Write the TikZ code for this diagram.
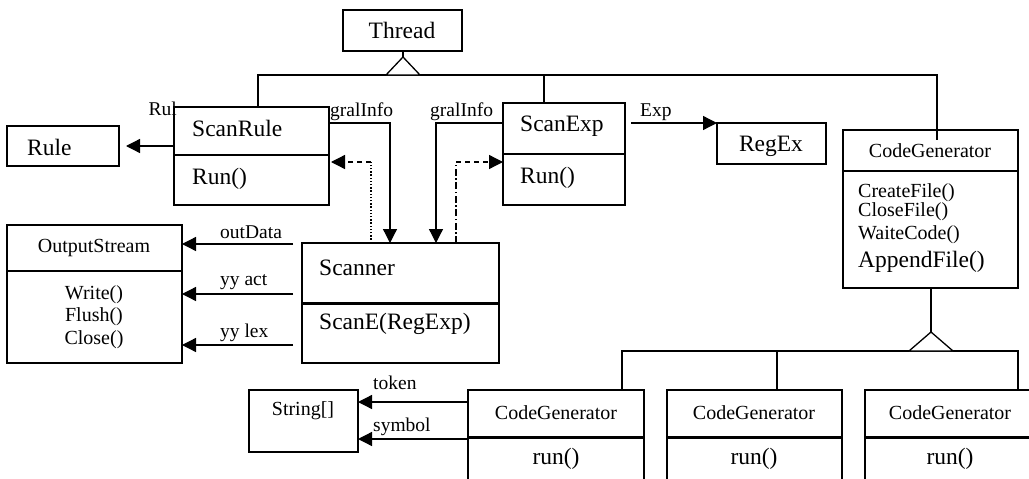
\documentclass[tikz,border=0pt]{standalone}
\usepackage{fontspec}
\setmainfont{Liberation Serif}
\usetikzlibrary{arrows.meta}
\newcommand\fBig{\fontsize{23.5}{27}\selectfont}
\newcommand\fSmall{\fontsize{20}{23}\selectfont}
\newcommand\fLab{\fontsize{19.5}{21}\selectfont}
\begin{document}
\begin{tikzpicture}[x=1pt,y=-1pt,
  ln/.style={line width=1.3pt},
  cbox/.style={draw, line width=1.3pt, anchor=north west, inner sep=0pt, outer sep=0pt},
  thickdiv/.style={line width=3pt},
  bigtxt/.style={inner sep=0pt, font=\fBig},
  smalltxt/.style={inner sep=0pt, font=\fSmall},
  labtxt/.style={inner sep=0pt, font=\fLab, anchor=west},
  tip/.style={-{Triangle[length=14pt,width=14pt]}},
  arr/.style={ln, tip},
  dashln/.style={ln, dash pattern=on 5pt off 4pt},
  dotln/.style={ln, dash pattern=on 1.4pt off 1.8pt},
  dashdotln/.style={ln, dash pattern=on 7pt off 2.5pt on 1.5pt off 2.5pt},
  gentri/.style={ln, line join=miter, fill=white}
]
\useasboundingbox (0,0) rectangle (1029,479);
\clip (0,0) rectangle (1029,479);
\fill[white] (0,0) rectangle (1029,479);

% ---------- class boxes ----------
\node[cbox, minimum width=119pt, minimum height=41pt] (thread) at (343,10) {};
\node[bigtxt] (threadt) at (402,30) {Thread};

\node[cbox, minimum width=155pt, minimum height=98pt] (scanrule) at (174,107) {};
\draw[ln] (scanrule.west |- 0,155) -- (scanrule.east |- 0,155);
\node[bigtxt, anchor=west] (scanrulet) at (192,128) {ScanRule};
\node[bigtxt, anchor=west] (scanrulem) at (192,179) {Run()};

\node[cbox, minimum width=112pt, minimum height=40pt] (rule) at (7,126) {};
\node[bigtxt, anchor=west] (rulet) at (27,147) {Rule};

\node[cbox, minimum width=122pt, minimum height=102pt] (scanexp) at (503,103) {};
\draw[ln] (scanexp.west |- 0,154) -- (scanexp.east |- 0,154);
\node[bigtxt, anchor=west] (scanexpt) at (520,126) {ScanExp};
\node[bigtxt, anchor=west] (scanexpm) at (520,178) {Run()};

\node[cbox, minimum width=109pt, minimum height=41pt] (regex) at (717,123) {};
\node[bigtxt] (regext) at (771,146) {RegEx};

\node[cbox, minimum width=175pt, minimum height=158pt] (cgbig) at (843,130) {};
\draw[ln] (cgbig.west |- 0,171) -- (cgbig.east |- 0,171);
\node[smalltxt] (cgbigt) at (930,151) {CodeGenerator};
\node[smalltxt, anchor=west] (cgm1) at (858,193) {CreateFile()};
\node[smalltxt, anchor=west] (cgm2) at (858,212) {CloseFile()};
\node[smalltxt, anchor=west] (cgm3) at (858,235) {WaiteCode()};
\node[bigtxt, anchor=west] (cgm4) at (858,262) {AppendFile()};

\node[cbox, minimum width=175pt, minimum height=138pt] (output) at (7,225) {};
\draw[ln] (output.west |- 0,271) -- (output.east |- 0,271);
\node[smalltxt] (outputt) at (94,248) {OutputStream};
\node[smalltxt] (outm1) at (94,295) {Write()};
\node[smalltxt] (outm2) at (94,317) {Flush()};
\node[smalltxt] (outm3) at (94,340) {Close()};

\node[cbox, minimum width=197pt, minimum height=120pt] (scanner) at (302,243) {};
\draw[thickdiv] (scanner.west |- 0,303) -- (scanner.east |- 0,303);
\node[bigtxt, anchor=west] (scannert) at (319,268) {Scanner};
\node[bigtxt, anchor=west] (scannerm) at (319,324) {ScanE(RegExp)};

\node[cbox, minimum width=109pt, minimum height=62pt] (string) at (249,390) {};
\node[smalltxt] (stringt) at (303,411) {String[]};

\node[cbox, minimum width=176pt, minimum height=120pt] (cg1) at (468,390) {};
\node[cbox, minimum width=175pt, minimum height=120pt] (cg2) at (667,390) {};
\node[cbox, minimum width=170pt, minimum height=120pt] (cg3) at (865,390) {};
\draw[thickdiv] (cg1.west |- 0,437) -- (cg1.east |- 0,437);
\draw[thickdiv] (cg2.west |- 0,437) -- (cg2.east |- 0,437);
\draw[thickdiv] (cg3.west |- 0,437) -- (cg3.east |- 0,437);
\node[smalltxt] (cg1t) at (556,413) {CodeGenerator};
\node[smalltxt] (cg2t) at (754,413) {CodeGenerator};
\node[smalltxt] (cg3t) at (950,413) {CodeGenerator};
\node[bigtxt] (cg1m) at (556,459) {run()};
\node[bigtxt] (cg2m) at (754,459) {run()};
\node[bigtxt] (cg3m) at (950,459) {run()};

% ---------- generalization: Thread ----------
\coordinate (apex1) at (403,57);
\draw[ln] (403,0 |- thread.south) -- (apex1);
\draw[ln] (258,0 |- scanrule.north) -- (258,75) -- (937,75) -- (937,140);
\draw[ln] (544,75) -- (544,0 |- scanexp.north);
\draw[gentri] (apex1) -- (386,75) -- (420,75) -- cycle;

% ---------- generalization: CodeGenerator ----------
\coordinate (apex2) at (931,332);
\draw[ln] (931,0 |- cgbig.south) -- (apex2);
\draw[ln] (622,0 |- cg1.north) -- (622,351) -- (1018,351) -- (1018,0 |- cg3.north);
\draw[ln] (777,351) -- (777,0 |- cg2.north);
\draw[gentri] (apex2) -- (909,351) -- (953,351) -- cycle;

% ---------- associations ----------
\draw[arr, shorten >=7pt] (scanrule.west |- rule.east) -- (rule.east);
\node[labtxt, anchor=east] (rullab) at (177,109) {Rul};

\draw[arr] (scanrule.east |- 0,123) -- (390,123) -- (390,0 |- scanner.north);
\node[labtxt] (gral1) at (330,112) {gralInfo};
\draw[arr] (scanexp.west |- 0,123) -- (436,123) -- (436,0 |- scanner.north);
\node[labtxt] (gral2) at (430,112) {gralInfo};

\draw[dotln] (371,0 |- scanner.north) -- (371,162);
\draw[dashln, tip, shorten >=2pt] (371,162) -- (scanrule.east |- 0,162);
\draw[dashdotln] (456,0 |- scanner.north) -- (456,162);
\draw[dashln, tip] (456,162) -- (scanexp.west |- 0,162);

\draw[arr] ([xshift=6pt]scanexp.east |- regex.north) -- (regex.north west);
\node[labtxt] (explab) at (640,112) {Exp};

\draw[arr] ([xshift=-9pt]scanner.west |- 0,244) -- (output.east |- 0,244);
\node[labtxt] (outdata) at (220,232) {outData};
\draw[arr] ([xshift=-9pt]scanner.west |- 0,294) -- (output.east |- 0,294);
\node[labtxt] (yyact) at (220,282) {yy act};
\draw[arr] ([xshift=-9pt]scanner.west |- 0,345) -- (output.east |- 0,345);
\node[labtxt] (yylex) at (220,333) {yy lex};

\draw[arr] (cg1.west |- 0,402) -- (string.east |- 0,402);
\node[labtxt] (tokenlab) at (373,383) {token};
\draw[arr] (cg1.west |- 0,439) -- (string.east |- 0,439);
\node[labtxt] (symlab) at (373,427) {symbol};
\end{tikzpicture}
\end{document}
